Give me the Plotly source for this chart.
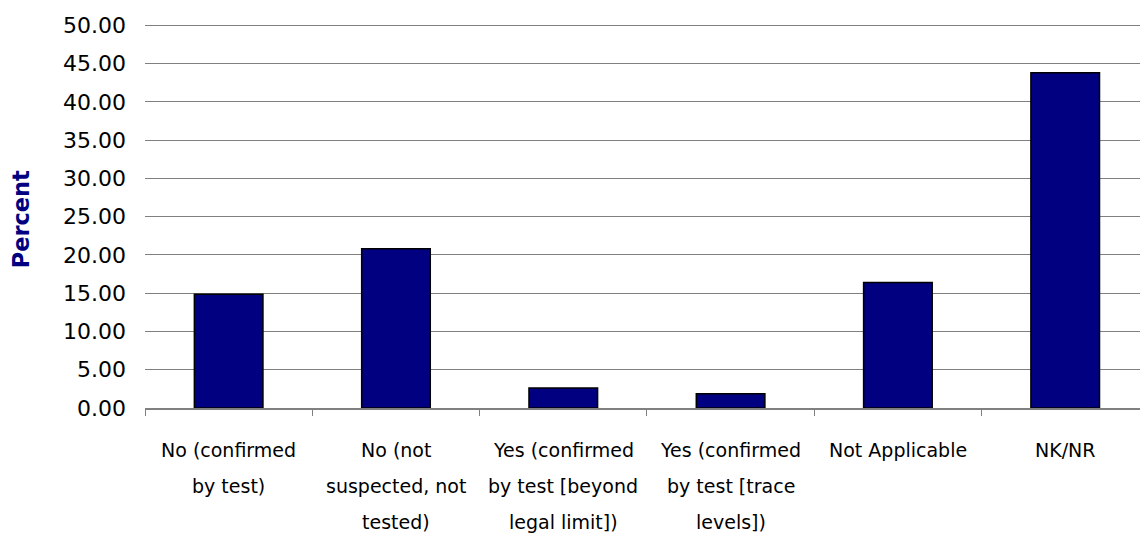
import plotly.graph_objects as go

# 分类与数值
categories = [
    "No (confirmed<br>by test)",
    "No (not<br>suspected, not<br>tested)",
    "Yes (confirmed<br>by test [beyond<br>legal limit])",
    "Yes (confirmed<br>by test [trace<br>levels])",
    "Not Applicable",
    "NK/NR",
]
percent = [14.85, 20.8, 2.6, 1.85, 16.4, 43.8]
y_ticks = [0, 5, 10, 15, 20, 25, 30, 35, 40, 45, 50]

FONT = "DejaVu Sans, Tahoma, Verdana, sans-serif"
GRID = "#808080"

fig = go.Figure(
    go.Bar(
        x=categories,
        y=percent,
        width=0.41,
        marker=dict(color="#000080", line=dict(color="black", width=1.5)),
        hovertemplate="%{y:.2f}<extra></extra>",
    )
)

# 分类标签：逐行放置，行距与原图一致
for cat in categories:
    for i, line in enumerate(cat.split("<br>")):
        fig.add_annotation(
            x=cat, xref="x", y=0, yref="paper",
            text=line, showarrow=False,
            xanchor="center", yanchor="middle",
            yshift=-41.5 - 36 * i,
            font=dict(family=FONT, size=19, color="black"),
        )

fig.add_annotation(
    x=(21 - 145) / 995, xref="paper", y=0.49, yref="paper",
    text="<b>Percent</b>", textangle=-90, showarrow=False,
    xanchor="center", yanchor="middle",
    font=dict(family=FONT, size=22.5, color="#000080"),
)

fig.update_layout(
    width=1140,
    height=533,
    margin=dict(l=145, r=0, t=23, b=124.5),
    paper_bgcolor="white",
    plot_bgcolor="white",
    showlegend=False,
    font=dict(family=FONT, color="black"),
)

fig.update_xaxes(
    type="category",
    range=[-0.5, 5.447],
    showticklabels=False,
    showline=True, linecolor=GRID, linewidth=1.5,
    ticks="outside", tickson="boundaries", ticklen=6, tickcolor=GRID,
    showgrid=False,
)

fig.update_yaxes(
    range=[0, 50.3],  # 留一点余量，让 50 的网格线显示出来
    tickvals=y_ticks,
    tickformat=".2f",
    tickfont=dict(family=FONT, size=22, color="black"),
    ticklabelstandoff=18,
    showgrid=True, gridcolor=GRID, gridwidth=1,
    zeroline=False, showline=False, ticks="",
)

# 去掉页面默认边距，让图表贴齐窗口
fig.write_html(
    "out.html",
    config={"displayModeBar": False},
    post_script="document.body.style.margin='0px';",
)
